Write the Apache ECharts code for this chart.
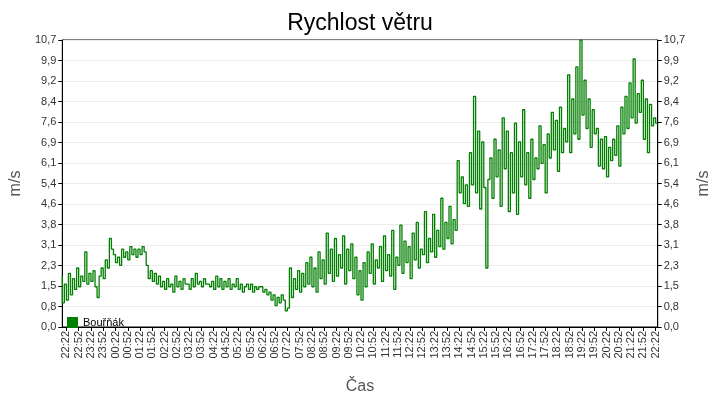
<!DOCTYPE html>
<html><head><meta charset="utf-8">
<script src="https://cdn.jsdelivr.net/npm/echarts@6/dist/echarts.min.js"></script>
<style>html,body{margin:0;padding:0;background:#fff}#c{width:720px;height:400px}</style>
</head><body><div id="c"></div>
<script>
const startTime = [22, 12];
const stepMinutes = 5;
const yTicks = ['0,0','0,8','1,5','2,3','3,1','3,8','4,6','5,4','6,1','6,9','7,6','8,4','9,2','9,9','10,7'];
const speed = [
1.9,0.9,
1.6,1.0,2.0,1.2,1.8,1.4,2.2,1.5,1.9,1.7,2.8,1.6,
2.0,1.7,2.1,1.5,1.1,1.9,2.2,1.8,2.5,2.2,3.3,2.9,
2.7,2.4,2.6,2.3,2.9,2.6,2.8,2.5,3.0,2.7,2.9,2.6,
2.9,2.7,3.0,2.8,2.3,1.8,2.1,1.7,2.0,1.6,1.9,1.5,
1.7,1.4,1.8,1.5,1.6,1.3,1.9,1.5,1.7,1.4,1.8,1.6,
1.6,1.4,1.8,1.5,2.0,1.6,1.7,1.5,1.8,1.6,1.6,1.5,
1.7,1.4,1.9,1.5,1.8,1.4,1.7,1.5,1.8,1.4,1.6,1.5,
1.8,1.4,1.6,1.3,1.5,1.6,1.4,1.6,1.3,1.5,1.4,1.5,
1.5,1.3,1.4,1.2,1.3,1.0,1.2,0.8,1.1,0.9,1.2,1.0,
0.6,0.7,2.2,1.1,1.8,1.4,2.1,1.3,2.0,1.5,2.4,1.6,
2.6,1.5,2.2,1.3,2.8,1.8,2.5,1.6,3.5,2.0,2.9,1.7,
3.3,1.9,2.7,2.2,3.4,1.6,2.9,2.1,3.1,1.8,2.6,1.2,
2.1,1.0,2.4,1.5,2.8,2.0,3.1,1.6,2.5,2.2,3.0,1.7,
3.4,2.1,2.7,1.9,3.6,1.4,2.6,2.3,3.8,2.0,3.2,2.4,
3.0,1.8,3.5,2.5,3.9,2.2,2.9,2.7,4.3,2.4,3.3,2.8,
4.2,2.6,3.6,3.0,4.8,2.9,3.9,3.3,4.5,3.1,4.0,3.6,
6.2,5.0,5.6,4.6,5.3,4.5,6.5,5.3,8.6,5.0,7.3,4.4,
6.9,5.2,2.2,5.5,6.3,4.8,7.0,5.6,6.6,4.5,7.8,5.9,
7.3,4.3,6.5,5.0,7.6,4.2,6.9,5.6,8.1,5.3,6.5,4.8,
7.0,5.5,6.3,5.9,7.5,6.1,6.8,5.0,7.2,6.3,8.0,6.6,
7.7,5.8,8.2,6.5,7.4,6.9,9.4,6.5,8.5,7.2,9.7,7.0,
10.7,7.9,9.2,7.4,8.5,6.7,8.1,7.2,7.4,6.0,7.0,5.9,
7.1,5.6,6.7,6.2,7.0,6.4,7.5,6.0,8.2,7.2,8.6,7.4,
9.1,7.8,10.0,7.6,8.7,8.0,9.2,7.0,8.5,6.5,8.3,7.5,
7.8,7.6
];
const categories = speed.map((_, i) => {
  const m = (startTime[0]*60 + startTime[1] + i*stepMinutes) % 1440;
  return String(Math.floor(m/60)).padStart(2,'0') + ':' + String(m%60).padStart(2,'0');
});
const step = 10.7/14;
const FONT = 'Liberation Sans';
const yAxisCommon = {
  type:'value', min:0, max:10.7, interval:step,
  name:'m/s', nameLocation:'middle', nameGap:36,
  nameTextStyle:{color:'#555', fontSize:16, fontFamily:FONT},
  axisLine:{show:true, lineStyle:{color:'#000'}},
  axisTick:{show:true, length:4, lineStyle:{color:'#000'}},
  axisLabel:{fontSize:11, color:'#333', fontFamily:FONT, margin:6,
    formatter:(v)=>yTicks[Math.round(v/step)]},
};
const chart = echarts.init(document.getElementById('c'));
chart.setOption({
  animation:false,
  title:{text:'Rychlost větru', left:'center', top:7,
    textStyle:{fontSize:23, fontWeight:'normal', color:'#000', fontFamily:FONT}},
  legend:{left:62, top:312, itemWidth:11, itemHeight:11, icon:'rect',
    textStyle:{fontSize:11, color:'#000', fontFamily:FONT}, data:['Bouřňák']},
  grid:{left:56, right:56, top:40, bottom:69, show:true, borderColor:'#000', borderWidth:1},
  xAxis:{type:'category', data:categories, boundaryGap:false,
    name:'Čas', nameLocation:'middle', nameGap:52,
    nameTextStyle:{color:'#555', fontSize:16, fontFamily:FONT},
    axisLine:{lineStyle:{color:'#000'}},
    axisTick:{interval:(i,v)=>/:(22|52)$/.test(v), length:4, lineStyle:{color:'#000'}},
    axisLabel:{interval:(i,v)=>/:(22|52)$/.test(v), rotate:90, fontSize:11, color:'#333', fontFamily:FONT, margin:4},
    splitLine:{show:false}},
  yAxis:[
    Object.assign({position:'left', splitLine:{show:true, lineStyle:{color:'#ebebeb'}}}, yAxisCommon),
    Object.assign({position:'right', splitLine:{show:false}}, yAxisCommon)
  ],
  series:[{name:'Bouřňák', type:'line', data:speed, step:'start', showSymbol:false,
    lineStyle:{color:'#007f00', width:1.3}, itemStyle:{color:'#008000'}}]
});
</script></body></html>
